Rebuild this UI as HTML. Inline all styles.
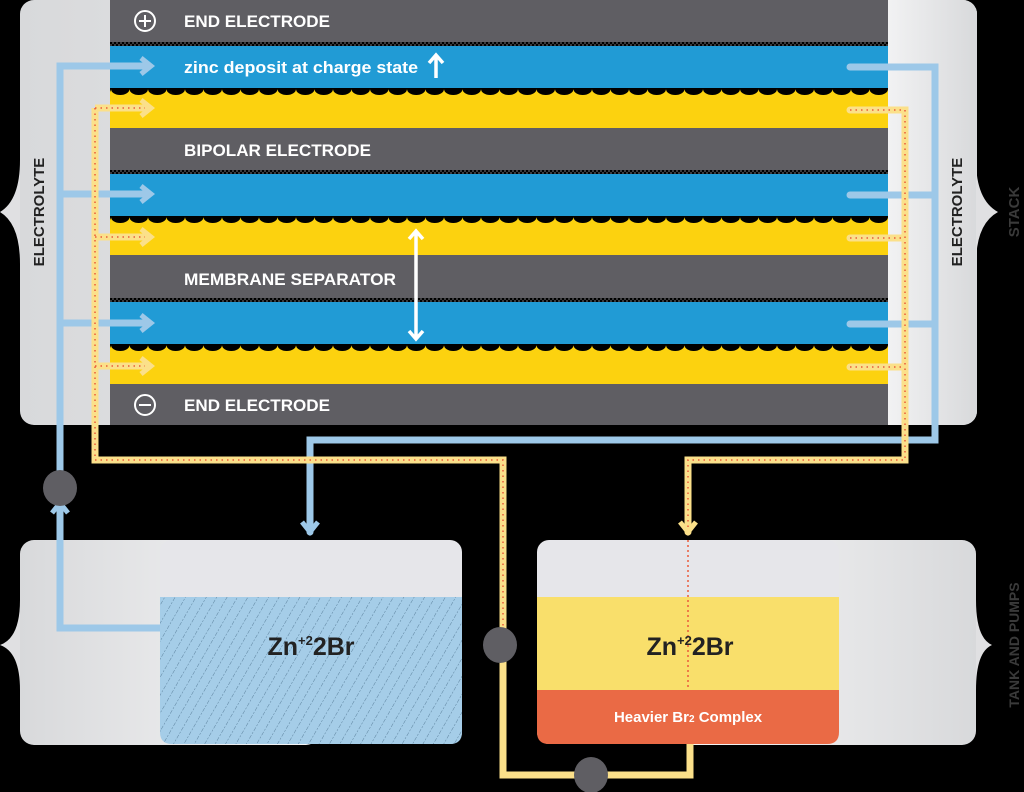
<!DOCTYPE html>
<html><head><meta charset="utf-8"><style>
html,body{margin:0;padding:0;background:#000;}
svg{display:block;}
text{font-family:"Liberation Sans",sans-serif;font-weight:bold;}
</style></head><body>
<svg width="1024" height="792" viewBox="0 0 1024 792" xmlns="http://www.w3.org/2000/svg">
<defs>
<linearGradient id="pl" x1="0" x2="1"><stop offset="0" stop-color="#d8d9db"/><stop offset="1" stop-color="#f7f7f8"/></linearGradient>
<linearGradient id="pr" x1="0" x2="1"><stop offset="0" stop-color="#f7f7f8"/><stop offset="1" stop-color="#d8d9db"/></linearGradient>
<pattern id="sc" width="18.5" height="8" patternUnits="userSpaceOnUse"><path d="M0,0 H18.5 V1 A9.25,6 0 0 1 0,1 Z" fill="#000"/></pattern>
<pattern id="dt" width="4" height="4" patternUnits="userSpaceOnUse"><rect width="4" height="4" fill="#3a3a3c"/><rect width="2" height="2" fill="#000"/><rect x="2" y="2" width="2" height="2" fill="#000"/></pattern>
<pattern id="hatch" width="9" height="9" patternUnits="userSpaceOnUse" patternTransform="rotate(30)"><rect width="9" height="9" fill="#a5cde8"/><line x1="0" y1="0" x2="0" y2="9" stroke="#4a6f8a" stroke-width="0.8" stroke-dasharray="2,1.5"/></pattern>
</defs>
<rect width="1024" height="792" fill="#000"/>
<!-- stack panel -->
<rect x="20" y="0" width="957" height="425" rx="14" fill="url(#pl)"/>
<rect x="870" y="0" width="107" height="425" rx="14" fill="url(#pr)"/>
<path d="M20,160 Q20,200 0,212 Q20,224 20,264 Z" fill="#e0e0e2"/>
<path d="M976,160 Q976,200 998,212 Q976,224 976,264 Z" fill="#e0e0e2"/>
<text transform="translate(44,212) rotate(-90)" text-anchor="middle" font-size="15" fill="#222">ELECTROLYTE</text>
<text transform="translate(962,212) rotate(-90)" text-anchor="middle" font-size="15" fill="#222">ELECTROLYTE</text>
<text transform="translate(1019,212) rotate(-90)" text-anchor="middle" font-size="15" fill="#3a3a3a">STACK</text>
<!-- bands -->
<g>
<rect x="110" y="0" width="778" height="42" fill="#5f5e63"/>
<rect x="110" y="42" width="778" height="4" fill="url(#dt)"/>
<rect x="110" y="46" width="778" height="42" fill="#219bd5"/>
<rect x="110" y="88" width="778" height="40" fill="#fcd20f"/>
<rect x="110" y="88" width="778" height="8" fill="url(#sc)"/>
<rect x="110" y="128" width="778" height="42" fill="#5f5e63"/>
<rect x="110" y="170" width="778" height="4" fill="url(#dt)"/>
<rect x="110" y="174" width="778" height="42" fill="#219bd5"/>
<rect x="110" y="216" width="778" height="39" fill="#fcd20f"/>
<rect x="110" y="216" width="778" height="8" fill="url(#sc)"/>
<rect x="110" y="255" width="778" height="43" fill="#5f5e63"/>
<rect x="110" y="298" width="778" height="4" fill="url(#dt)"/>
<rect x="110" y="302" width="778" height="42" fill="#219bd5"/>
<rect x="110" y="344" width="778" height="40" fill="#fcd20f"/>
<rect x="110" y="344" width="778" height="8" fill="url(#sc)"/>
<rect x="110" y="384" width="778" height="41" fill="#5f5e63"/>
</g>
<circle cx="145" cy="21" r="10" fill="none" stroke="#fff" stroke-width="2"/>
<path d="M139,21 H151 M145,15 V27" stroke="#fff" stroke-width="2"/>
<circle cx="145" cy="405" r="10" fill="none" stroke="#fff" stroke-width="2"/>
<path d="M139,405 H151" stroke="#fff" stroke-width="2"/>
<g font-size="17" fill="#fff">
<text x="184" y="27" textLength="146" lengthAdjust="spacingAndGlyphs">END ELECTRODE</text>
<text x="184" y="73" textLength="234" lengthAdjust="spacingAndGlyphs">zinc deposit at charge state</text>
<text x="184" y="156" textLength="187" lengthAdjust="spacingAndGlyphs">BIPOLAR ELECTRODE</text>
<text x="184" y="285" textLength="212" lengthAdjust="spacingAndGlyphs">MEMBRANE SEPARATOR</text>
<text x="184" y="411" textLength="146" lengthAdjust="spacingAndGlyphs">END ELECTRODE</text>
</g>
<path d="M436,78 V56 M429,63 L436,55 L443,63" stroke="#fff" stroke-width="3.5" fill="none"/>
<path d="M416,232 V338 M409,239 L416,231 L423,239 M409,331 L416,339 L423,331" stroke="#fff" stroke-width="3.5" fill="none"/>
<!-- tanks panel -->
<rect x="20" y="540" width="300" height="205" rx="14" fill="url(#pl)"/>
<rect x="680" y="540" width="296" height="205" rx="14" fill="url(#pr)"/>
<path d="M20,600 Q20,638 0,645 Q20,652 20,690 Z" fill="#e0e0e2"/>
<path d="M976,600 Q976,638 992,645 Q976,652 976,690 Z" fill="#e0e0e2"/>
<text transform="translate(1019,645) rotate(-90)" text-anchor="middle" font-size="14" fill="#3a3a3a">TANK AND PUMPS</text>
<!-- blue pipes -->
<g fill="none" stroke="#9dc8e8" stroke-width="7">
<path d="M60,480 V66 H150 M60,194 H150 M60,323 H150"/>
<path d="M141,58 L151,66 L141,74 M141,186 L151,194 L141,202 M141,315 L151,323 L141,331" stroke-width="5"/>
<path d="M850,67 H935 V440 H310 V532 M850,195 H935 M850,324 H935" stroke-linecap="round"/>
<path d="M302,522 L310,532 L318,522" stroke-width="5"/>
<path d="M60,500 V628 H162"/>
<path d="M52,513 L60,503 L68,513" stroke-width="5"/>
</g>
<!-- yellow pipes -->
<g fill="none" stroke="#fbe08a" stroke-width="7">
<path d="M95,108 H150 M95,237 H150 M95,366 H150 M95,108 V460 H503 V775 H690 V742"/>
<path d="M141,100 L151,108 L141,116 M141,229 L151,237 L141,245 M141,358 L151,366 L141,374" stroke-width="5"/>
<path d="M850,110 H905 V460 H688 V532 M850,238 H905 M850,367 H905" stroke-linecap="round"/>
<path d="M680,522 L688,532 L696,522" stroke-width="5"/>
</g>
<g fill="none" stroke="#ea5a3a" stroke-width="1.5" stroke-dasharray="1.5,4">
<path d="M95,108 H145 M95,237 H145 M95,366 H145 M95,108 V460 H503 V640"/>
<path d="M850,110 H905 V460 H688 V530 M850,238 H905 M850,367 H905"/>
</g>
<!-- left tank -->
<rect x="160" y="540" width="302" height="204" rx="12" fill="#e6e6ea"/>
<path d="M160,597 H462 V732 Q462,744 450,744 H172 Q160,744 160,732 Z" fill="url(#hatch)"/>
<text x="311" y="655" text-anchor="middle" font-size="25" fill="#222">Zn<tspan font-size="13" dy="-10">+2</tspan><tspan dy="10">2Br</tspan></text>
<!-- right tank -->
<rect x="537" y="540" width="302" height="204" rx="12" fill="#e6e6ea"/>
<rect x="537" y="597" width="302" height="93" fill="#f9df6b"/>
<path d="M537,690 H839 V732 Q839,744 827,744 H549 Q537,744 537,732 Z" fill="#ea6a45"/>
<path d="M688,540 V688" stroke="#ea5a3a" stroke-width="1.5" stroke-dasharray="2,3"/>
<text x="690" y="655" text-anchor="middle" font-size="25" fill="#222">Zn<tspan font-size="13" dy="-10">+2</tspan><tspan dy="10">2Br</tspan></text>
<text x="688" y="722" text-anchor="middle" font-size="15" fill="#fff">Heavier Br<tspan font-size="10">2</tspan> Complex</text>
<!-- pumps -->
<ellipse cx="60" cy="488" rx="17" ry="18" fill="#5f5e63"/>
<ellipse cx="500" cy="645" rx="17" ry="18" fill="#5f5e63"/>
<ellipse cx="591" cy="775" rx="17" ry="18" fill="#5f5e63"/>
</svg>
</body></html>
